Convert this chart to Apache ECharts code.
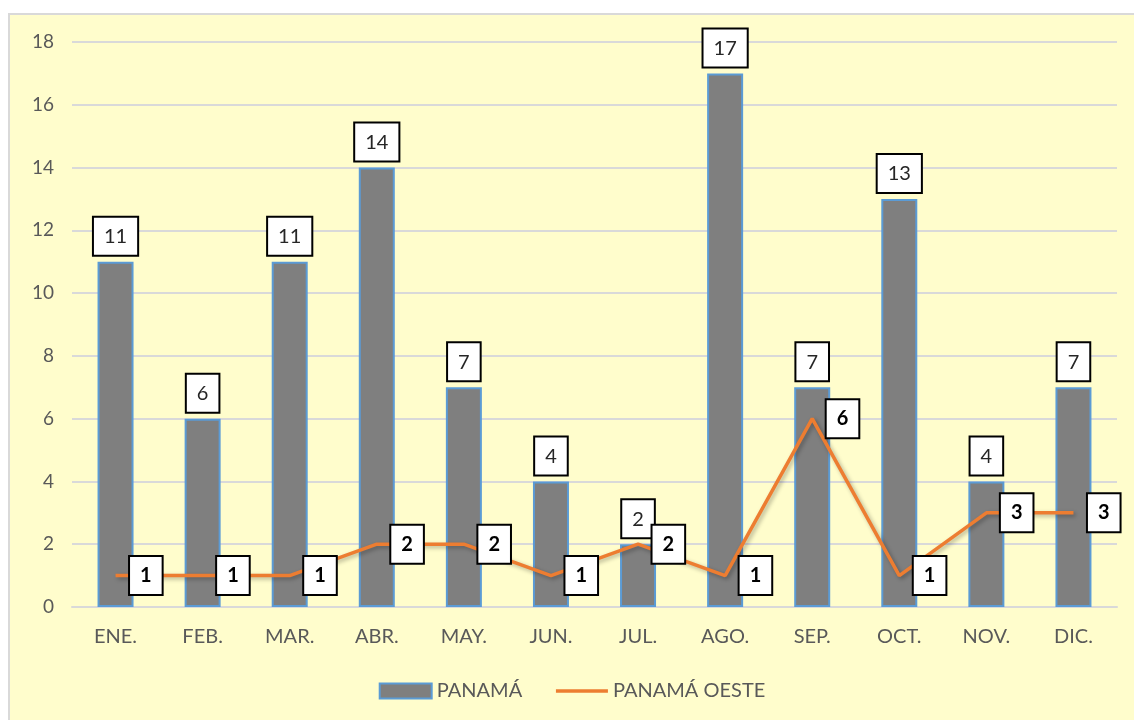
<!DOCTYPE html>
<html>
<head>
<meta charset="utf-8">
<script src="https://cdn.jsdelivr.net/npm/echarts@6/dist/echarts.min.js"></script>
<style>
  html, body { margin: 0; padding: 0; background: #ffffff; }
  #chart {
    position: absolute; left: 8px; top: 13px;
    width: 1124px; height: 705px;
    background: #FFFDCC;
    border: 2px solid #D9D9D9;
    border-right: none; border-bottom: none;
  }
</style>
</head>
<body>
<div id="chart"></div>
<script>
const months = ['ENE.', 'FEB.', 'MAR.', 'ABR.', 'MAY.', 'JUN.', 'JUL.', 'AGO.', 'SEP.', 'OCT.', 'NOV.', 'DIC.'];
const panama = [11, 6, 11, 14, 7, 4, 2, 17, 7, 13, 4, 7];
const panamaOeste = [1, 1, 1, 2, 2, 1, 2, 1, 6, 1, 3, 3];

const FONT = 'Lato, "Liberation Sans", sans-serif';
const chart = echarts.init(document.getElementById('chart'));

// white boxed data labels with a black frame
const boxLabel = {
  show: true,
  backgroundColor: '#ffffff',
  borderColor: '#000000',
  borderWidth: 2,
  color: '#262626',
  fontFamily: FONT,
  fontSize: 20,
  lineHeight: 24,
  padding: [7, 10, 6, 10]
};

chart.setOption({
  animation: false,
  textStyle: { fontFamily: FONT },
  grid: { left: 62, right: 17, top: 27, bottom: 113 },
  legend: {
    bottom: 14,
    left: 'center',
    itemWidth: 52,
    itemHeight: 15,
    itemGap: 32,
    textStyle: { color: '#595959', fontSize: 20, fontFamily: FONT },
    data: [
      { name: 'PANAMÁ', icon: 'rect' },
      { name: 'PANAMÁ OESTE', itemStyle: { opacity: 0 }, lineStyle: { color: '#ED7D31', width: 3.5 } }
    ]
  },
  xAxis: {
    type: 'category',
    data: months,
    axisLine: { lineStyle: { color: '#D9D9D9', width: 2 } },
    axisTick: { show: false },
    axisLabel: { color: '#595959', fontSize: 20, margin: 20, fontFamily: FONT }
  },
  yAxis: {
    type: 'value',
    min: 0, max: 18, interval: 2,
    axisLine: { show: false },
    axisTick: { show: false },
    axisLabel: { color: '#595959', fontSize: 19, margin: 18, fontFamily: FONT },
    splitLine: { lineStyle: { color: '#D9D9D9', width: 2 } }
  },
  series: [
    {
      name: 'PANAMÁ',
      type: 'bar',
      data: panama,
      barWidth: 36,
      itemStyle: { color: '#7F7F7F', borderColor: '#5B9BD5', borderWidth: 2 },
      label: Object.assign({}, boxLabel, { position: 'top', distance: 7 }),
      z: 2
    },
    {
      name: 'PANAMÁ OESTE',
      type: 'line',
      data: panamaOeste,
      symbol: 'circle',
      symbolSize: 1,
      showSymbol: true,
      lineStyle: {
        color: '#ED7D31', width: 3.5,
        shadowColor: 'rgba(0,0,0,0.3)', shadowBlur: 4, shadowOffsetX: 2, shadowOffsetY: 2
      },
      itemStyle: { color: 'rgba(237,125,49,0)' },
      label: Object.assign({}, boxLabel, { position: 'right', distance: 14, fontWeight: 'bold', color: '#000000', opacity: 1 }),
      z: 3
    }
  ]
});
</script>
</body>
</html>
